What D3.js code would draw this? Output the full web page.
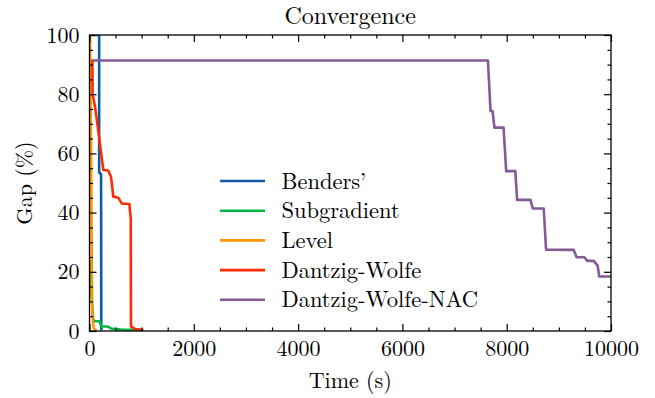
<!DOCTYPE html>
<html>
<head>
<meta charset="utf-8">
<script src="https://cdn.jsdelivr.net/npm/d3@7"></script>
<style>
  body { margin: 0; background: #fff; }
  text { font-family: "CMU Serif", "Latin Modern Roman", "Liberation Serif", serif; fill: #000; }
</style>
</head>
<body>
<div id="chart"></div>
<script>
'use strict';

// times in seconds, gap in percent
const bendersTime = [40, 185, 185, 222, 226, 235];
const bendersGap  = [100, 100, 53.5, 53, 0.6, 0.3];

const subgradTime = [20, 40, 70, 100, 200, 220, 350, 420, 600, 1030];
const subgradGap  = [24, 12, 4, 3.3, 3.3, 1.5, 1.5, 0.8, 0.5, 0.3];

const levelTime = [10, 30, 45, 55, 80, 130];
const levelGap  = [100, 60, 20, 5, 1, 0.1];

const dwTime = [40, 55, 60, 106, 180, 265, 360, 413, 457, 553, 618, 764, 791, 795, 873, 1030];
const dwGap  = [91.4, 91.4, 80, 75.8, 66, 54.4, 54.2, 52, 45.4, 45, 43.1, 42.9, 38, 1.5, 0.7, 0.3];

const nacTime = [55, 7640, 7690, 7730, 7765, 7940, 7990, 8165, 8200, 8455, 8500, 8710, 8755,
                 9285, 9340, 9490, 9545, 9670, 9745, 9775, 10000];
const nacGap  = [91.4, 91.4, 74.3, 74.3, 68.7, 68.7, 54, 54, 44.3, 44.3, 41.4, 41.4, 27.5,
                 27.4, 24.9, 24.9, 23.7, 23.7, 22, 18.4, 18.4];

const seriesNames  = ["Benders\u2019", "Subgradient", "Level", "Dantzig-Wolfe", "Dantzig-Wolfe-NAC"];
const seriesColors = ["#0C5DA5", "#00B945", "#FF9500", "#FF2C00", "#845B97"];
const seriesTimes  = [bendersTime, subgradTime, levelTime, dwTime, nacTime];
const seriesGaps   = [bendersGap, subgradGap, levelGap, dwGap, nacGap];

const xMajor = [0, 2000, 4000, 6000, 8000, 10000];
const yMajor = [0, 20, 40, 60, 80, 100];

const width = 655, height = 398;
const margin = { top: 35, right: 44, bottom: 67, left: 89.5 };
const innerW = width - margin.left - margin.right;
const innerH = height - margin.top - margin.bottom;

const svg = d3.select("#chart").append("svg")
  .attr("width", width)
  .attr("height", height);

const xScale = d3.scaleLinear().domain([0, 10000]).range([0, innerW]);
const yScale = d3.scaleLinear().domain([0, 100]).range([innerH, 0]);

const chart = svg.append("g")
  .attr("transform", `translate(${margin.left}, ${margin.top})`);

chart.append("clipPath").attr("id", "plotclip")
  .append("rect").attr("width", innerW).attr("height", innerH);

// series lines
const line = d3.line()
  .x(function (d) { return xScale(d[0]); })
  .y(function (d) { return yScale(d[1]); });

const lines = chart.append("g").attr("clip-path", "url(#plotclip)");
for (let i = 0; i < seriesNames.length; i++) {
  const pts = seriesTimes[i].map(function (t, j) { return [t, seriesGaps[i][j]]; });
  lines.append("path")
    .datum(pts)
    .attr("d", line)
    .attr("fill", "none")
    .attr("stroke", seriesColors[i])
    .attr("stroke-width", 2.6)
    .attr("stroke-linejoin", "round");
}

// ticks, inward on all four sides
const xMinor = d3.range(0, 10001, 500).filter(function (v) { return v % 2000 !== 0; });
const yMinor = d3.range(0, 101, 5).filter(function (v) { return v % 20 !== 0; });
const fmt = d3.format("d");

function addAxis(axis, transform) {
  const g = chart.append("g").attr("transform", transform).call(axis);
  g.select(".domain").remove();
  g.selectAll(".tick line").attr("stroke", "#000").attr("stroke-width", 1.2);
  g.selectAll(".tick text")
    .style("font-family", '"CMU Serif", "Latin Modern Roman", "Liberation Serif", serif')
    .style("font-size", "22px");
  return g;
}

addAxis(d3.axisBottom(xScale).tickValues(xMajor).tickSize(-7).tickPadding(9).tickFormat(fmt),
  `translate(0, ${innerH})`);
addAxis(d3.axisBottom(xScale).tickValues(xMinor).tickSize(-3.5).tickFormat(""),
  `translate(0, ${innerH})`);
addAxis(d3.axisTop(xScale).tickValues(xMajor).tickSize(-7).tickFormat(""), "translate(0, 0)");
addAxis(d3.axisTop(xScale).tickValues(xMinor).tickSize(-3.5).tickFormat(""), "translate(0, 0)");
addAxis(d3.axisLeft(yScale).tickValues(yMajor).tickSize(-7).tickPadding(10).tickFormat(fmt),
  "translate(0, 0)");
addAxis(d3.axisLeft(yScale).tickValues(yMinor).tickSize(-3.5).tickFormat(""), "translate(0, 0)");
addAxis(d3.axisRight(yScale).tickValues(yMajor).tickSize(-7).tickFormat(""), `translate(${innerW}, 0)`);
addAxis(d3.axisRight(yScale).tickValues(yMinor).tickSize(-3.5).tickFormat(""), `translate(${innerW}, 0)`);

// frame
chart.append("rect")
  .attr("width", innerW)
  .attr("height", innerH)
  .attr("fill", "none")
  .attr("stroke", "#000")
  .attr("stroke-width", 1.3);

// title and axis labels
svg.append("text")
  .attr("x", margin.left + innerW / 2)
  .attr("y", 24)
  .attr("text-anchor", "middle")
  .style("font-size", "24px")
  .text("Convergence");

svg.append("text")
  .attr("x", margin.left + innerW / 2)
  .attr("y", 388)
  .attr("text-anchor", "middle")
  .style("font-size", "22px")
  .text("Time (s)");

svg.append("text")
  .attr("transform", `translate(32, ${183}) rotate(-90)`)
  .attr("text-anchor", "middle")
  .style("font-size", "22px")
  .text("Gap (%)");

// legend
const legend = svg.append("g").attr("transform", "translate(220, 181)");
seriesNames.forEach(function (name, i) {
  const row = legend.append("g").attr("transform", `translate(0, ${i * 29.7})`);
  row.append("line")
    .attr("x1", 0).attr("x2", 45)
    .attr("y1", 0).attr("y2", 0)
    .attr("stroke", seriesColors[i])
    .attr("stroke-width", 2.6);
  row.append("text")
    .attr("x", 61.5)
    .attr("y", 7.5)
    .style("font-size", "22.5px")
    .text(name);
});
</script>
</body>
</html>
